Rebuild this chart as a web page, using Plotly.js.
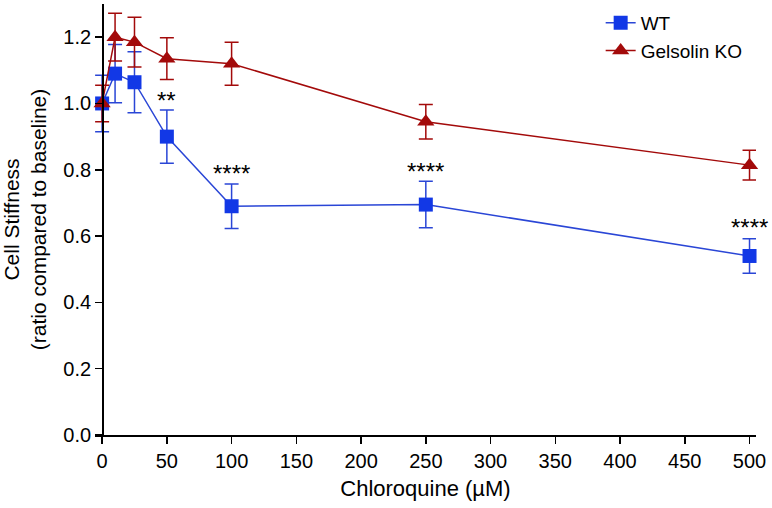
<!DOCTYPE html>
<html>
<head>
<meta charset="utf-8">
<script src="https://cdn.plot.ly/plotly-3.0.1.min.js"></script>
<style>
  body { margin: 0; background: white; }
  #graph { width: 772px; height: 508px; }
</style>
</head>
<body>
<div id="graph"></div>
<script>
// chloroquine doses (uM)
var dose = [0, 10, 25, 50, 100, 250, 500];

// WT cell stiffness + error
var wtY = [1.0, 1.09, 1.064, 0.90, 0.69, 0.695, 0.54];
var wtErr = [0.085, 0.088, 0.092, 0.08, 0.067, 0.07, 0.052];

// gelsolin KO cell stiffness + error
var koY = [1.0, 1.2, 1.185, 1.135, 1.12, 0.945, 0.814];
var koErr = [0.055, 0.072, 0.075, 0.063, 0.065, 0.052, 0.045];

// significance stars
var starX = [50, 100, 250, 500];
var starY = [1.02, 0.80, 0.806, 0.638];
var starText = ['**', '****', '****', '****'];

var blue = '#1238e6';
var red = '#a30a0a';
var font = 'Liberation Sans, Arial, Helvetica, sans-serif';

var wt = {
  x: dose,
  y: wtY,
  name: 'WT',
  mode: 'lines+markers',
  line: {color: '#2a46d6', width: 1.5},
  marker: {symbol: 'square', size: 14, color: blue},
  error_y: {type: 'data', array: wtErr, visible: true, color: '#2a46d6', thickness: 1.5, width: 7},
  cliponaxis: false
};

var ko = {
  x: dose,
  y: koY,
  name: 'Gelsolin KO',
  mode: 'lines+markers',
  line: {color: red, width: 1.5},
  marker: {symbol: 'triangle-up', size: 15, color: red},
  error_y: {type: 'data', array: koErr, visible: true, color: red, thickness: 1.5, width: 7},
  cliponaxis: false
};

// stars as annotations, nudged down since the glyph sits high in the line
var notes = [];
for (var i = 0; i < starX.length; i++) {
  notes.push({
    x: starX[i], y: starY[i] - 0.012,
    xref: 'x', yref: 'y',
    text: starText[i], showarrow: false,
    font: {family: font, size: 24, color: 'black'}
  });
}

var xmin = -5.5, xmax = 505;

var layout = {
  width: 772,
  height: 508,
  margin: {l: 95, r: 16, t: 4, b: 73, pad: 0},
  paper_bgcolor: 'white',
  plot_bgcolor: 'white',
  font: {family: font, size: 20, color: 'black'},
  showlegend: true,
  legend: {
    x: 0.765, y: 1.0, xanchor: 'left', yanchor: 'top',
    bgcolor: 'rgba(0,0,0,0)',
    font: {family: font, size: 19, color: 'black'},
    tracegroupgap: 0
  },
  xaxis: {
    range: [xmin, xmax],
    tickmode: 'array',
    tickvals: [0, 50, 100, 150, 200, 250, 300, 350, 400, 450, 500],
    ticks: 'outside', ticklen: 7, tickwidth: 1.5, tickcolor: 'black',
    showline: true, linecolor: 'black', linewidth: 1.5,
    showgrid: false, zeroline: false,
    tickfont: {family: font, size: 20},
    title: {text: 'Chloroquine (\u00b5M)', font: {family: font, size: 22}, standoff: 10}
  },
  yaxis: {
    range: [0, 1.3],
    anchor: 'free',
    position: (0 - xmin) / (xmax - xmin),
    tickmode: 'array',
    tickvals: [0, 0.2, 0.4, 0.6, 0.8, 1.0, 1.2],
    tickformat: '.1f',
    ticks: 'outside', ticklen: 7, tickwidth: 1.5, tickcolor: 'black',
    showline: true, linecolor: 'black', linewidth: 1.5,
    showgrid: false, zeroline: false,
    tickfont: {family: font, size: 20},
    title: {text: 'Cell Stiffness<br>(ratio compared to baseline)', font: {family: font, size: 21}, standoff: 9}
  },
  annotations: notes
};

Plotly.newPlot('graph', [wt, ko], layout, {displayModeBar: false, staticPlot: true});
</script>
</body>
</html>
